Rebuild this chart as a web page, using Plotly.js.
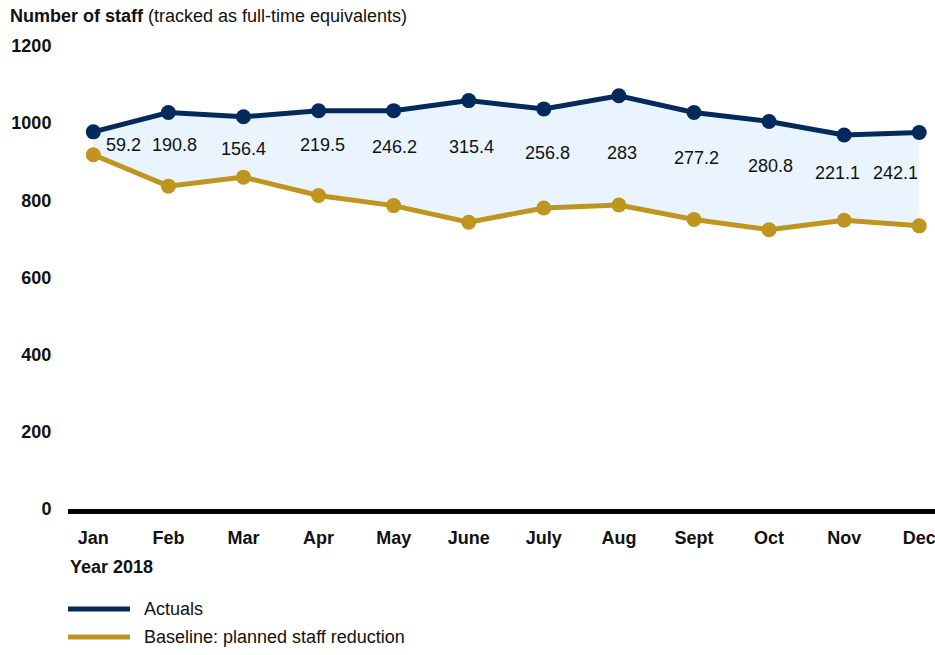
<!DOCTYPE html>
<html>
<head>
<meta charset="utf-8">
<script src="https://cdn.plot.ly/plotly-3.0.1.min.js"></script>
<style>html,body{margin:0;padding:0;background:#fff;}#chart{width:935px;height:655px;}</style>
</head>
<body>
<div id="chart"></div>
<script>
// ---- data ----
var months = ["Jan","Feb","Mar","Apr","May","June","July","Aug","Sept","Oct","Nov","Dec"];
var actuals = [977.5, 1027.5, 1016.5, 1032, 1032.5, 1058.5, 1037, 1071, 1027.5, 1004.5, 969.5, 976];
var baseline = [918.3, 836.7, 860.1, 812.5, 786.3, 743.1, 780.2, 788, 750.3, 723.7, 748.4, 733.9];
var gapLabels = ["59.2","190.8","156.4","219.5","246.2","315.4","256.8","283","277.2","280.8","221.1","242.1"];
var yTicks = [0, 200, 400, 600, 800, 1000, 1200];
var seriesNames = ["Actuals", "Baseline: planned staff reduction"];

// ---- styling ----
var NAVY = "#032a5a";
var GOLD = "#bf9520";
var FILL = "#e9f4fe";
var FONT = "Liberation Sans, Arial, sans-serif";
var FS = 18;

// label placement (layout, not data)
var labelY = [943, 943, 934, 943, 939, 937, 923, 923, 911, 889, 870, 870];
var labelShift = [30, 6, 0, 4, 1, 3, 4, 3, 3, 1, -7, -24];

var traces = [
  {x: months, y: baseline, type: "scatter", mode: "lines+markers", name: seriesNames[1],
   line: {color: GOLD, width: 5}, marker: {color: GOLD, size: 15}, hoverinfo: "skip"},
  {x: months, y: actuals, type: "scatter", mode: "lines+markers", name: seriesNames[0],
   fill: "tonexty", fillcolor: FILL,
   line: {color: NAVY, width: 5}, marker: {color: NAVY, size: 15}, hoverinfo: "skip"}
];

var annotations = gapLabels.map(function (t, i) {
  return {x: months[i], y: labelY[i], xref: "x", yref: "y", text: t, showarrow: false,
          xshift: labelShift[i], font: {family: FONT, size: FS, color: "#111"}};
});

// axis title & legend (custom to match long legend lines)
annotations.push({xref: "paper", yref: "paper", x: 0, y: (509 - 567) / 463, xanchor: "left", yanchor: "middle",
  text: "<b>Year 2018</b>", showarrow: false, font: {family: FONT, size: FS, color: "#111"}});
var legendY = [609, 637];
var legendColors = [NAVY, GOLD];
var shapes = [];
seriesNames.forEach(function (n, i) {
  var py = (509 - legendY[i]) / 463;
  shapes.push({type: "line", xref: "paper", yref: "paper", x0: 0, x1: 62 / 867, y0: py, y1: py,
               line: {color: legendColors[i], width: 5}});
  annotations.push({xref: "paper", yref: "paper", x: 74 / 867, y: py, xanchor: "left", yanchor: "middle",
    text: n, showarrow: false, font: {family: FONT, size: FS, color: "#111"}});
});

var layout = {
  width: 935, height: 655,
  margin: {l: 68, r: 0, t: 46, b: 146},
  paper_bgcolor: "#fff", plot_bgcolor: "#fff",
  showlegend: false,
  font: {family: FONT, size: FS, color: "#111"},
  title: {text: "<b>Number of staff</b> (tracked as full-time equivalents)", xref: "container", yref: "container",
          x: 10 / 935, xanchor: "left", y: 1 - 16 / 655, yanchor: "middle",
          font: {family: FONT, size: FS, color: "#111"}},
  xaxis: {type: "category", range: [-0.337, 11.21], showgrid: false, zeroline: false,
          showline: true, linecolor: "#000", linewidth: 5,
          ticks: "outside", ticklen: 8, tickcolor: "rgba(0,0,0,0)",
          tickfont: {family: FONT, size: FS, color: "#111", weight: "bold"}},
  yaxis: {range: [0, 1200], tickvals: yTicks, showgrid: false, zeroline: false, showline: false,
          ticks: "outside", ticklen: 12, tickcolor: "rgba(0,0,0,0)",
          tickfont: {family: FONT, size: FS, color: "#111", weight: "bold"}},
  annotations: annotations,
  shapes: shapes
};

Plotly.newPlot("chart", traces, layout, {displayModeBar: false, staticPlot: true});
</script>
</body>
</html>
